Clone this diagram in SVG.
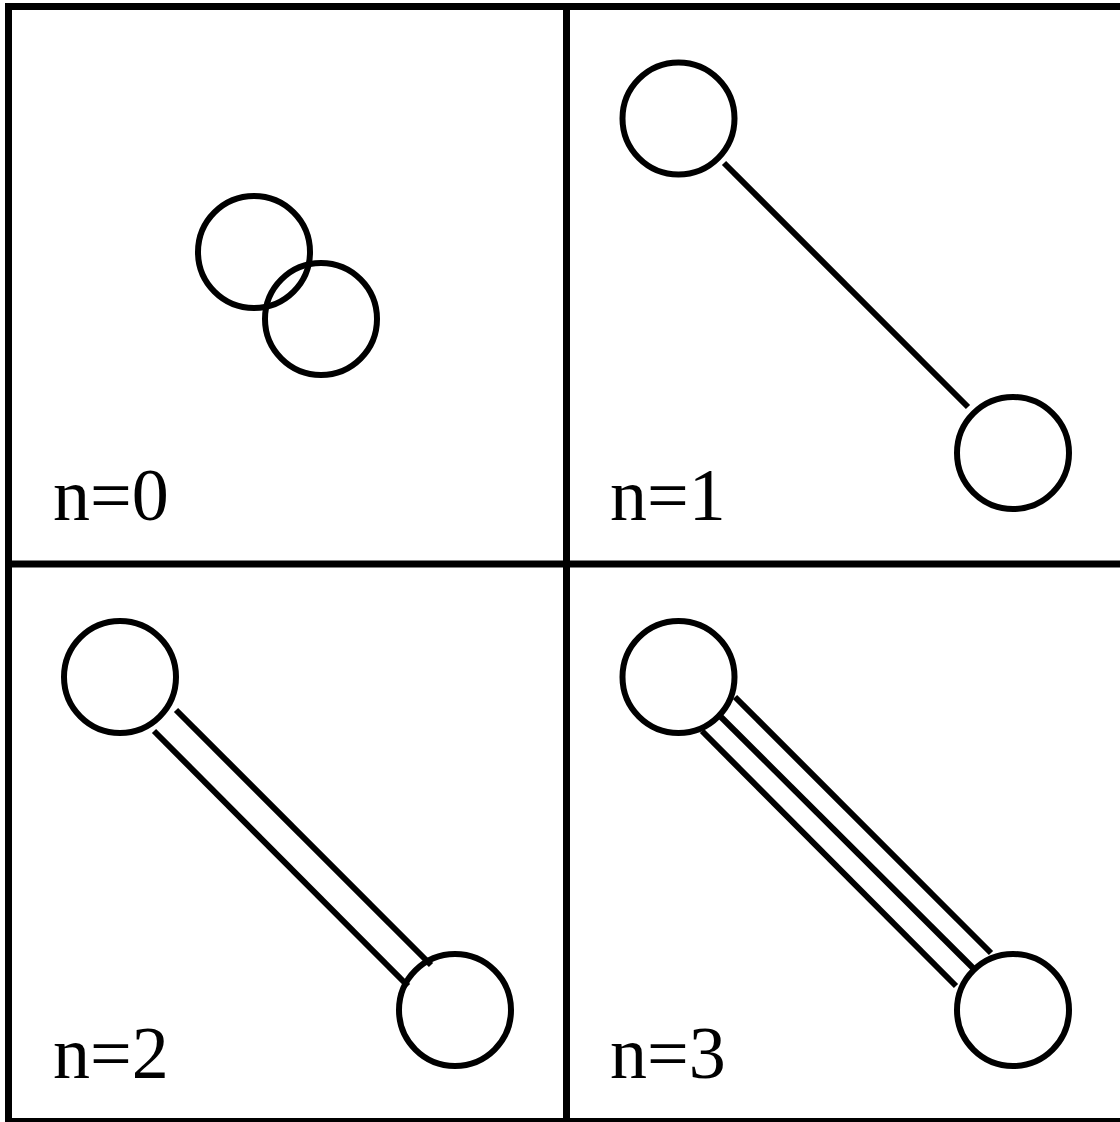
<svg xmlns="http://www.w3.org/2000/svg" width="1120" height="1122" viewBox="0 0 1120 1122">
<style>
.grid{fill:none;stroke:#000;stroke-width:7}
.node{fill:none;stroke:#000;stroke-width:6}
.edge{stroke:#000;stroke-width:6;fill:none}
.lbl{font-family:"Liberation Serif","Times New Roman",serif;font-size:74px;fill:#000}
</style>
<rect width="1120" height="1122" fill="#fff"/>
<g id="grid">
<rect class="grid" x="8.5" y="6.5" width="1115" height="1115"/>
<line class="grid" x1="566.5" y1="6.5" x2="566.5" y2="1121.5"/>
<line class="grid" x1="8.5" y1="564" x2="1123.5" y2="564"/>
</g>
<g id="connectors">
<line class="edge" x1="724" y1="163" x2="968" y2="407"/>
<line class="edge" x1="176" y1="710" x2="431" y2="965"/>
<line class="edge" x1="154" y1="731" x2="408" y2="986"/>
<line class="edge" x1="735" y1="697" x2="991" y2="953"/>
<line class="edge" x1="720" y1="716" x2="974" y2="969"/>
<line class="edge" x1="702" y1="731" x2="956" y2="986"/>
</g>
<g id="n0">
<circle class="node" cx="254" cy="252" r="56"/>
<circle class="node" cx="321" cy="319" r="56"/>
<text class="lbl" x="53" y="520">n=0</text>
</g>
<g id="n1">
<circle class="node" cx="678.5" cy="118.5" r="56"/>
<circle class="node" cx="1013" cy="453" r="56"/>
<text class="lbl" x="610" y="520">n=1</text>
</g>
<g id="n2">
<circle class="node" cx="120" cy="677" r="56"/>
<circle class="node" cx="455" cy="1010" r="56"/>
<text class="lbl" x="53" y="1078">n=2</text>
</g>
<g id="n3">
<circle class="node" cx="678.5" cy="677" r="56"/>
<circle class="node" cx="1013" cy="1010" r="56"/>
<text class="lbl" x="610" y="1078">n=3</text>
</g>
</svg>
